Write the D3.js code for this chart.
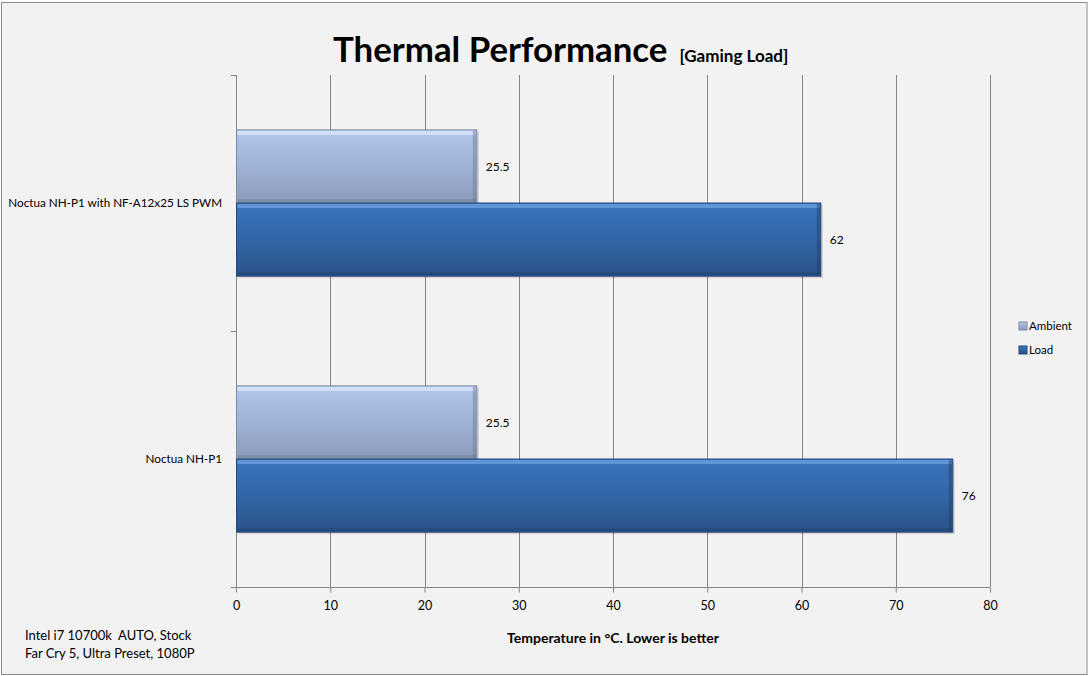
<!DOCTYPE html>
<html>
<head>
<meta charset="utf-8">
<script src="https://cdn.jsdelivr.net/npm/d3@7"></script>
<style>
  html, body { margin: 0; padding: 0; background: #ffffff; }
  svg { display: block; }
</style>
</head>
<body>
<script>
// Data
const categories = ["Noctua NH-P1 with NF-A12x25 LS PWM", "Noctua NH-P1"];
const seriesNames = ["Ambient", "Load"];
const ambient = [25.5, 25.5];
const load = [62, 76];
const xTicks = [0, 10, 20, 30, 40, 50, 60, 70, 80];
const notes = ["Intel i7 10700k  AUTO, Stock", "Far Cry 5, Ultra Preset, 1080P"];

const width = 1089, height = 676;
const font = "Lato, 'Open Sans', sans-serif";
const gridColor = '#868686';

const margin = { top: 75, left: 236, right: 99, bottom: 89 };
const plotW = width - margin.left - margin.right;
const plotH = height - margin.top - margin.bottom;

const svg = d3.select("body").append("svg")
  .attr("width", width)
  .attr("height", height)
  .attr("font-family", font);

const defs = svg.append("defs");

function gradient(id, stops) {
  const g = defs.append("linearGradient")
    .attr("id", id)
    .attr("x1", 0).attr("y1", 0).attr("x2", 0).attr("y2", 1);
  stops.forEach(s => g.append("stop").attr("offset", s[0]).attr("stop-color", s[1]));
}
gradient("gAmbient", [[0, "#b2c5ea"], [0.5, "#a0b2d6"], [1, "#8a9bbb"]]);
gradient("gLoad", [[0, "#3b74bb"], [0.5, "#3366a8"], [1, "#2a5288"]]);

// Chart background and border
svg.append("rect")
  .attr("x", 1.5).attr("y", 2.5)
  .attr("width", width - 3.5).attr("height", height - 4)
  .attr("fill", "#f2f2f2")
  .attr("stroke", "#8c8c8c")
  .attr("stroke-width", 1);

const x = d3.scaleLinear().domain([0, 80]).range([0, plotW]);
const y0 = d3.scaleBand().domain(categories).range([0, plotH]).paddingInner(0).paddingOuter(0);
const y1 = d3.scaleBand().domain(seriesNames).range([0, y0.bandwidth()]).paddingInner(0).paddingOuter(0.75);

const g = svg.append("g").attr("transform", `translate(${margin.left},${margin.top})`);

// vertical gridlines
g.append("g")
  .selectAll("line")
  .data(xTicks.slice(1))
  .join("line")
  .attr("x1", d => Math.round(x(d)) + 0.5)
  .attr("x2", d => Math.round(x(d)) + 0.5)
  .attr("y1", 0)
  .attr("y2", plotH)
  .attr("stroke", gridColor);

// x axis
const xAxis = g.append("g")
  .attr("transform", `translate(0,${plotH + 0.5})`)
  .call(d3.axisBottom(x).tickValues(xTicks).tickSize(5).tickPadding(9));
xAxis.select(".domain").attr("stroke", gridColor).attr("d", `M-5,0H${plotW}`);
xAxis.selectAll(".tick line").attr("stroke", gridColor);
xAxis.selectAll("text").attr("font-size", 12.5).attr("fill", "#000").attr("font-family", font);

// y axis (category ticks at band edges)
const yEdges = [0, plotH / 2, plotH];
g.append("line")
  .attr("x1", 0.5).attr("x2", 0.5)
  .attr("y1", 0).attr("y2", plotH)
  .attr("stroke", gridColor);
g.append("g").selectAll("line")
  .data(yEdges)
  .join("line")
  .attr("x1", -5).attr("x2", 0.5)
  .attr("y1", d => d + 0.5).attr("y2", d => d + 0.5)
  .attr("stroke", gridColor);

g.append("g").selectAll("text")
  .data(categories)
  .join("text")
  .attr("x", -14)
  .attr("y", d => y0(d) + y0.bandwidth() / 2)
  .attr("dy", "0.35em")
  .attr("text-anchor", "end")
  .attr("font-size", 11.7)
  .attr("fill", "#000")
  .text(d => d);

// bars
const rows = [];
categories.forEach((c, i) => {
  rows.push({ cat: c, series: "Ambient", value: ambient[i] });
  rows.push({ cat: c, series: "Load", value: load[i] });
});

const bars = g.append("g").selectAll("g")
  .data(rows)
  .join("g")
  .attr("transform", d => `translate(0.5,${y0(d.cat) + y1(d.series)})`);

const bh = y1.bandwidth();

// shadow
bars.append("rect")
  .attr("x", 2).attr("y", 2)
  .attr("width", d => x(d.value))
  .attr("height", bh)
  .attr("fill", "#000")
  .attr("opacity", 0.12);

bars.append("rect")
  .attr("width", d => x(d.value))
  .attr("height", bh)
  .attr("fill", d => d.series === "Ambient" ? "url(#gAmbient)" : "url(#gLoad)")
  .attr("stroke", d => d.series === "Ambient" ? "#7d8aa3" : "#24487a")
  .attr("stroke-width", 1);

// bevel highlight at top
bars.append("rect")
  .attr("x", 1).attr("y", 1)
  .attr("width", d => x(d.value) - 2)
  .attr("height", 4)
  .attr("fill", d => d.series === "Ambient" ? "#dbe6fb" : "#6b9ee0")
  .attr("opacity", 0.8);

// bevel shade at right and bottom
bars.append("rect")
  .attr("x", d => x(d.value) - 4).attr("y", 1)
  .attr("width", 3)
  .attr("height", bh - 2)
  .attr("fill", d => d.series === "Ambient" ? "#6f7c94" : "#1f3f6b")
  .attr("opacity", 0.5);
bars.append("rect")
  .attr("x", 1).attr("y", bh - 4)
  .attr("width", d => x(d.value) - 2)
  .attr("height", 3)
  .attr("fill", d => d.series === "Ambient" ? "#6f7c94" : "#1f3f6b")
  .attr("opacity", 0.45);

// value labels
bars.append("text")
  .attr("x", d => x(d.value) + 9)
  .attr("y", bh / 2)
  .attr("dy", "0.35em")
  .attr("font-size", 12)
  .attr("fill", "#000")
  .text(d => d.value);

// title
const title = svg.append("text")
  .attr("x", 333)
  .attr("y", 62)
  .attr("font-weight", "bold")
  .attr("fill", "#000");
title.append("tspan").attr("font-size", 34.8).text("Thermal Performance");
title.append("tspan").attr("font-size", 17).attr("dx", 12).text("[Gaming Load]");

// axis title
svg.append("text")
  .attr("x", margin.left + plotW / 2)
  .attr("y", 643)
  .attr("text-anchor", "middle")
  .attr("font-weight", "bold")
  .attr("font-size", 14)
  .attr("fill", "#000")
  .text("Temperature in °C. Lower is better");

// notes
svg.append("g").selectAll("text")
  .data(notes)
  .join("text")
  .attr("x", 25)
  .attr("y", (d, i) => 640 + i * 18)
  .attr("font-size", 13)
  .attr("fill", "#000")
  .style("white-space", "pre")
  .text(d => d);

// legend
const legend = svg.append("g").attr("transform", "translate(1019,320)");
const li = legend.selectAll("g")
  .data(seriesNames)
  .join("g")
  .attr("transform", (d, i) => `translate(0,${i * 24})`);
li.append("rect")
  .attr("width", 8).attr("height", 8)
  .attr("y", 2)
  .attr("fill", d => d === "Ambient" ? "url(#gAmbient)" : "url(#gLoad)")
  .attr("stroke", d => d === "Ambient" ? "#7d8aa3" : "#24487a");
li.append("text")
  .attr("x", 10)
  .attr("y", 6)
  .attr("dy", "0.35em")
  .attr("font-size", 11.5)
  .attr("fill", "#000")
  .text(d => d);
</script>
</body>
</html>
